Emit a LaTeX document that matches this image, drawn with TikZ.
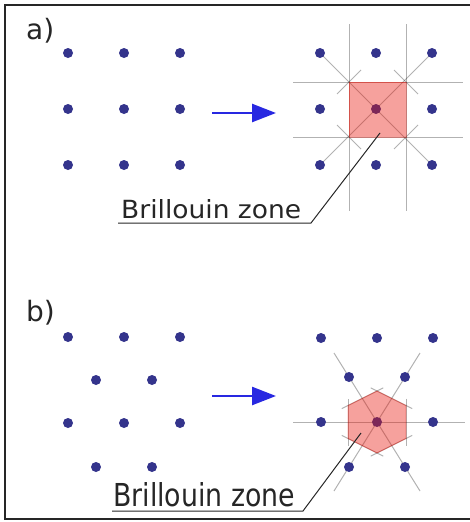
\documentclass[tikz,border=0pt]{standalone}
\usepackage{fontspec}
\usepackage{graphicx}
\newfontfamily\labfont{DejaVu Sans}
\usetikzlibrary{arrows.meta,calc}
\definecolor{dotblue}{RGB}{52,52,140}
\definecolor{arrblue}{RGB}{40,40,225}
\definecolor{zonered}{RGB}{232,20,10}
\begin{document}
\begin{tikzpicture}[x=1pt,y=-1pt,
  dot/.style={circle,fill=dotblue,inner sep=0pt,minimum size=10pt},
  gridl/.style={draw=black,draw opacity=0.3,line width=1pt},
  zone/.style={fill=zonered,fill opacity=0.4,draw=zonered,draw opacity=0.35,line width=0.8pt},
  arr/.style={draw=arrblue,line width=2.5pt,-{Triangle[length=24pt,width=18pt]}},
  leader/.style={draw=black!85,line width=1pt},
  lbl/.style={inner sep=0pt,anchor=base west,font=\labfont\fontsize{28}{30}\selectfont,text=black!85},
  zlbl/.style={inner sep=0pt,anchor=base west,font=\labfont,text=black!85},
]
\useasboundingbox (0,0) rectangle (469,522);
% frame
\draw[line width=2pt,black!85] (4.5,4.5) rectangle (480,519);

% ---------------- a) ----------------
\node[lbl] (ta) at (26,39) {a)};
\foreach \i/\x in {1/68,2/124,3/180}
  \foreach \j/\y in {1/53,2/109,3/165}
    \node[dot] (aL\i\j) at (\x,\y) {};
% right lattice coordinates
\foreach \i/\x in {1/320,2/376,3/432}
  \foreach \j/\y in {1/53,2/109,3/165}
    \coordinate (aR\i\j) at (\x,\y);
\coordinate (aTL) at (349,82);
\coordinate (aTR) at (406,82);
\coordinate (aBR) at (406,137);
\coordinate (aBL) at (349,137);
% bisector lines
\draw[gridl] (349,24) -- (349,211);
\draw[gridl] (406,24) -- (406,211);
\draw[gridl] (293,82) -- (463,82);
\draw[gridl] (293,137) -- (463,137);
\draw[gridl] (aR11) -- (aR33);
\draw[gridl] (aR31) -- (aR13);
\draw[gridl] ([shift={(-12,12)}]aTL) -- ([shift={(12,-12)}]aTL);
\draw[gridl] ([shift={(-12,-12)}]aTR) -- ([shift={(12,12)}]aTR);
\draw[gridl] ([shift={(-12,12)}]aBR) -- ([shift={(12,-12)}]aBR);
\draw[gridl] ([shift={(-12,-12)}]aBL) -- ([shift={(12,12)}]aBL);
\foreach \i in {1,2,3}
  \foreach \j in {1,2,3}
    \node[dot] (aD\i\j) at (aR\i\j) {};
\path[zone] (aTL) -- (aTR) -- (aBR) -- (aBL) -- cycle;
% arrow
\coordinate (aA1) at (212,113);
\coordinate (aA2) at (276,113);
\draw[arr] (aA1) -- (aA2);
% label
\node[zlbl] (za) at (121,218) {\resizebox{180pt}{19pt}{Brillouin zone}};
\coordinate (la1) at (118,223);
\coordinate (la2) at (311,223);
\coordinate (la3) at (380,133);
\draw[leader] (la1) -- (la2) -- (la3);

% ---------------- b) ----------------
\node[lbl] (tb) at (26,321) {b)};
\foreach \x/\n in {68/1,124/2,180/3} {
  \node[dot] (bL1\n) at (\x,337) {};
  \node[dot] (bL3\n) at (\x,423) {};
}
\foreach \x/\n in {96/1,152/2} {
  \node[dot] (bL2\n) at (\x,380) {};
  \node[dot] (bL4\n) at (\x,467) {};
}
% right
\coordinate (bC) at (377,422);
\coordinate (hT) at (377,391);
\coordinate (hUR) at (406,405.5);
\coordinate (hLR) at (406,438.5);
\coordinate (hB) at (377,453);
\coordinate (hLL) at (348,438.5);
\coordinate (hUL) at (348,405.5);
\draw[gridl] (293,422) -- (465,422);
\draw[gridl] (334,353) -- (420,491);
\draw[gridl] (420,353) -- (334,491);
\foreach \p/\q in {hT/hUR,hUR/hLR,hLR/hB,hB/hLL,hLL/hUL,hUL/hT}
  \draw[gridl] ($(\p)!-7pt!(\q)$) -- ($(\q)!-7pt!(\p)$);
\foreach \x/\n in {321/1,377/2,433/3} {
  \node[dot] (bR1\n) at (\x,338) {};
}
\node[dot] (bR31) at (321,422) {};
\node[dot] (bR32) at (bC) {};
\node[dot] (bR33) at (433,422) {};
\foreach \x/\n in {349/1,405/2} {
  \node[dot] (bR2\n) at (\x,377) {};
  \node[dot] (bR4\n) at (\x,467) {};
}
\path[zone] (hT) -- (hUR) -- (hLR) -- (hB) -- (hLL) -- (hUL) -- cycle;
% arrow
\coordinate (bA1) at (212,396);
\coordinate (bA2) at (276,396);
\draw[arr] (bA1) -- (bA2);
% label
\node[zlbl] (zb) at (113,506) {\resizebox{182pt}{24pt}{Brillouin zone}};
\coordinate (lb1) at (112,511);
\coordinate (lb2) at (303,511);
\coordinate (lb3) at (361,433);
\draw[leader] (lb1) -- (lb2) -- (lb3);
\end{tikzpicture}
\end{document}
